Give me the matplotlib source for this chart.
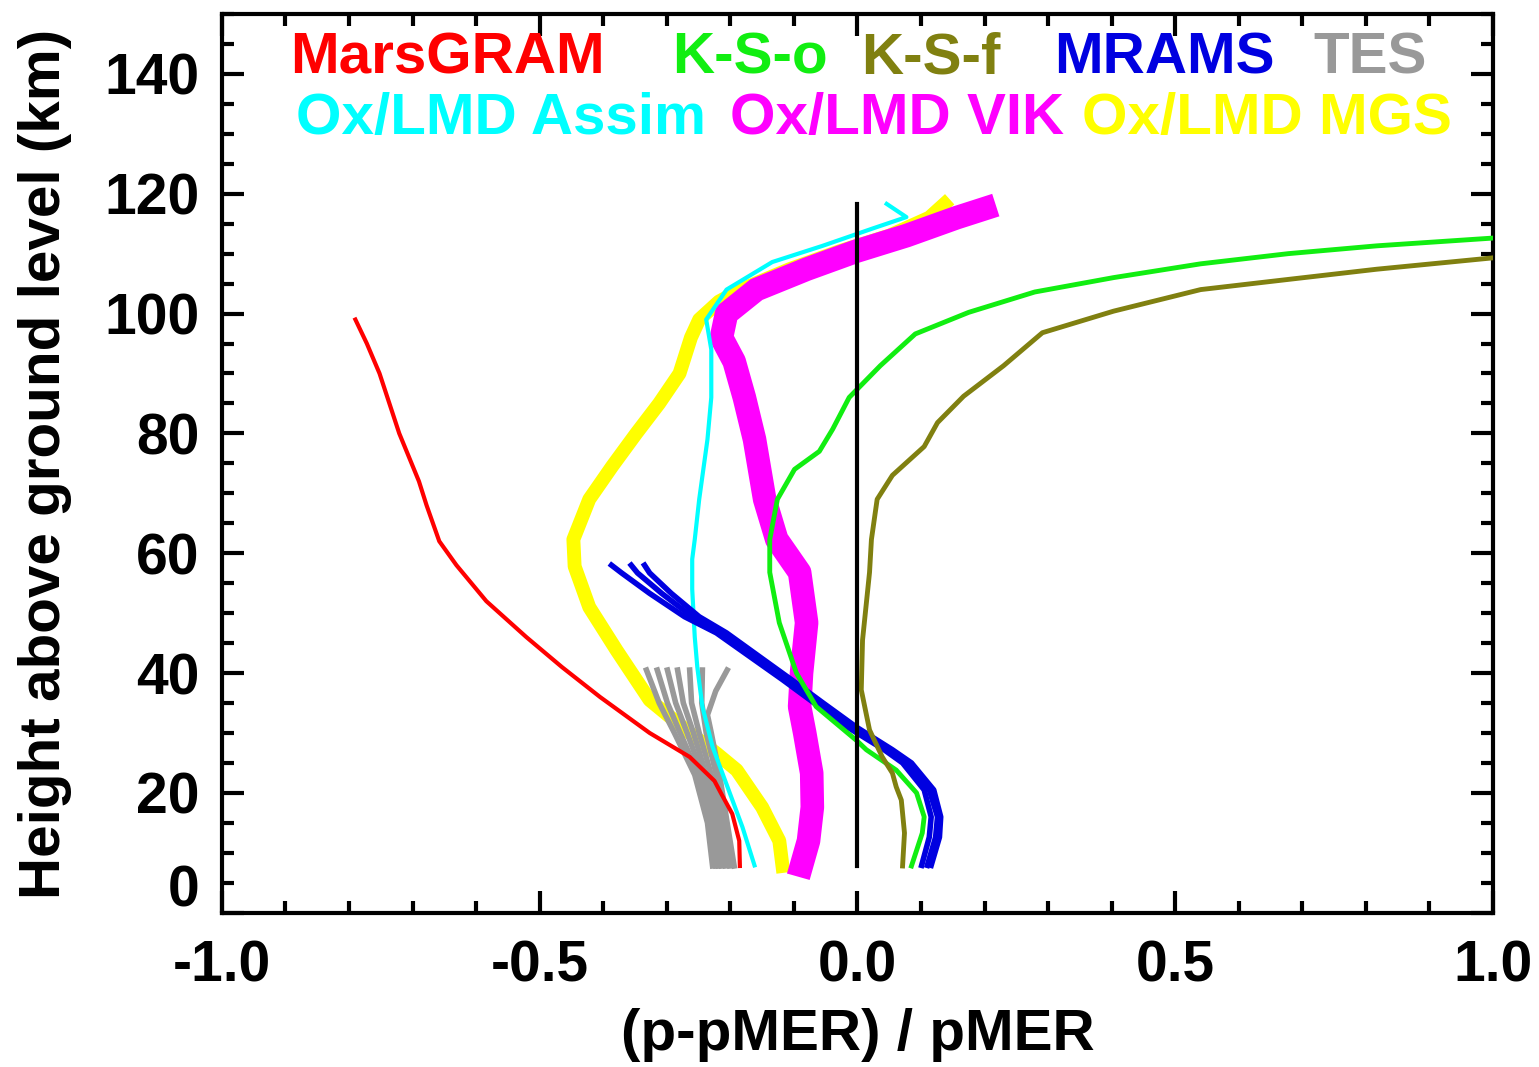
import numpy as np
import matplotlib
matplotlib.use('Agg')
import matplotlib.pyplot as plt
from matplotlib.ticker import MultipleLocator

plt.rcParams['font.family'] = 'Liberation Sans'
plt.rcParams['font.weight'] = 'bold'
plt.rcParams['axes.unicode_minus'] = False

# MarsGRAM (red)
gram_h = [7.8, 12, 16.5, 20, 22, 26, 30, 36, 41, 46, 52, 58, 62, 68, 72, 80, 90, 95, 99]
gram_x = [-0.185, -0.186, -0.197, -0.215, -0.225, -0.264, -0.327, -0.405, -0.465, -0.521,
          -0.584, -0.631, -0.658, -0.678, -0.690, -0.721, -0.752, -0.772, -0.790]

# Ox/LMD MGS (yellow)
mgs_h = [7.8, 12, 17.6, 23.8, 26.6, 30, 35.5, 43.8, 51, 57.8, 62.3, 69, 74.5, 80, 85, 90,
         96, 99, 102, 104, 107.4, 110.4, 113, 116, 118.3]
mgs_x = [-0.118, -0.123, -0.150, -0.190, -0.222, -0.264, -0.327, -0.379, -0.422, -0.445,
         -0.447, -0.422, -0.386, -0.348, -0.312, -0.280, -0.262, -0.249, -0.218, -0.183,
         -0.107, -0.028, 0.050, 0.113, 0.137]

# Ox/LMD Assim (cyan)
assim_h = [7.9, 14.3, 20, 27.7, 34.4, 41, 46, 54, 59, 62.3, 69, 79, 86, 94, 99, 104, 108.6,
           111.3, 114.2, 116.1, 118.3]
assim_x = [-0.162, -0.181, -0.201, -0.228, -0.244, -0.252, -0.256, -0.260, -0.260, -0.256,
           -0.249, -0.236, -0.230, -0.230, -0.238, -0.206, -0.134, -0.055, 0.024, 0.077, 0.046]

# Ox/LMD VIK (magenta)
vik_h = [7.9, 12, 17.6, 23.3, 30, 34.4, 40, 48.4, 56.8, 62.3, 69, 79, 86, 92, 96, 100, 104,
         107.4, 110.4, 113, 116, 117.5]
vik_x = [-0.088, -0.077, -0.071, -0.072, -0.083, -0.091, -0.088, -0.080, -0.091, -0.127,
         -0.146, -0.162, -0.178, -0.194, -0.214, -0.206, -0.159, -0.080, -0.002, 0.077,
         0.156, 0.200]

# K-S-o (green)
kso_h = [7.8, 13.3, 16, 20, 23.8, 27.2, 28.8, 34.4, 40, 48.4, 56.8, 62.3, 69, 74, 77, 80.7,
         86, 91.3, 96.6, 100.2, 103.6, 106, 108.3, 110, 111.3, 112.6]
kso_x = [0.085, 0.102, 0.105, 0.093, 0.061, 0.014, -0.002, -0.065, -0.096, -0.123, -0.138,
         -0.138, -0.126, -0.099, -0.060, -0.039, -0.013, 0.036, 0.091, 0.175, 0.279, 0.403,
         0.540, 0.678, 0.817, 1.0]

# K-S-f (olive)
ksf_h = [7.8, 13.3, 18.8, 21, 23.3, 26, 30.5, 37.2, 45.5, 56.8, 62.3, 69, 73, 77.8, 81.8,
         86.2, 91.3, 96.8, 100.4, 104, 105.7, 107.4, 109.3]
ksf_x = [0.071, 0.074, 0.069, 0.061, 0.055, 0.039, 0.019, 0.006, 0.008, 0.019, 0.022, 0.031,
         0.055, 0.105, 0.126, 0.167, 0.230, 0.291, 0.403, 0.540, 0.678, 0.817, 1.0]

# MRAMS (blue), three members
mrams_h = [7.9, 12.6, 16, 20.5, 25, 27.2, 31, 35, 38.9, 46.7, 49.4, 53.3, 56.7, 58]
mrams_x1 = [0.101, 0.113, 0.116, 0.105, 0.071, 0.042, -0.016, -0.068, -0.118, -0.222,
            -0.272, -0.327, -0.371, -0.387]
mrams_x2 = [0.110, 0.123, 0.126, 0.113, 0.079, 0.050, -0.008, -0.060, -0.110, -0.214,
            -0.260, -0.308, -0.346, -0.356]
mrams_x3 = [0.116, 0.129, 0.131, 0.120, 0.085, 0.055, -0.002, -0.054, -0.104, -0.206,
            -0.249, -0.293, -0.327, -0.335]

# TES (gray), several profiles
tes_h = [7.8, 15, 23, 30, 35, 40.5]
tes_x = [
    [-0.228, -0.236, -0.256, -0.288, -0.312, -0.332],
    [-0.223, -0.231, -0.250, -0.279, -0.299, -0.315],
    [-0.219, -0.227, -0.244, -0.268, -0.286, -0.299],
    [-0.214, -0.222, -0.238, -0.258, -0.274, -0.283],
    [-0.208, -0.216, -0.230, -0.249, -0.261, -0.264],
    [-0.201, -0.209, -0.222, -0.238, -0.245, -0.244],
]
tes_branch_h = [7.8, 15, 23, 30, 33, 37, 40.5]
tes_branch_x = [-0.194, -0.205, -0.217, -0.230, -0.236, -0.223, -0.205]

zero_h = [7.8, 118.3]

labels_row1 = ['MarsGRAM', 'K-S-o', 'K-S-f', 'MRAMS', 'TES']
colors_row1 = ['#ff0000', '#11ee11', '#808010', '#0000e0', '#999999']
xpos_row1 = [-0.892, -0.291, 0.005, 0.310, 0.718]
labels_row2 = ['Ox/LMD Assim', 'Ox/LMD VIK', 'Ox/LMD MGS']
colors_row2 = ['#00ffff', '#ff00ff', '#ffff00']
xpos_row2 = [-0.884, -0.200, 0.354]

xticks = [-1.0, -0.5, 0.0, 0.5, 1.0]
xticklabels = ['-1.0', '-0.5', '0.0', '0.5', '1.0']
yticks = [0, 20, 40, 60, 80, 100, 120, 140]

fig = plt.figure(figsize=(15.39, 10.67), dpi=100)
ax = fig.add_axes([0.1442, 0.1446, 0.8259, 0.8423])

ax.plot(mgs_x, mgs_h, color='#ffff00', lw=10, solid_joinstyle='round', zorder=1)
ax.plot(vik_x, vik_h, color='#ff00ff', lw=17, solid_joinstyle='round', zorder=2)
for tx in tes_x:
    ax.plot(tx, tes_h, color='#999999', lw=4, zorder=3)
ax.plot(tes_branch_x, tes_branch_h, color='#999999', lw=4, zorder=3)
ax.plot(assim_x, assim_h, color='#00ffff', lw=3, zorder=4)
ax.plot(gram_x, gram_h, color='#ff0000', lw=3, zorder=5)
for mx in [mrams_x1, mrams_x2, mrams_x3]:
    ax.plot(mx, mrams_h, color='#0000e0', lw=4, zorder=6)
ax.plot(kso_x, kso_h, color='#11ee11', lw=3.5, zorder=7)
ax.plot(ksf_x, ksf_h, color='#808010', lw=3.5, zorder=8)
ax.plot([0, 0], zero_h, color='black', lw=3, zorder=9)

for lab, c, x in zip(labels_row1, colors_row1, xpos_row1):
    ax.text(x, 140, lab, color=c, fontsize=42, fontweight='bold', ha='left', va='baseline')
for lab, c, x in zip(labels_row2, colors_row2, xpos_row2):
    ax.text(x, 130, lab, color=c, fontsize=42, fontweight='bold', ha='left', va='baseline')

ax.set_xlim(-1, 1)
ax.set_ylim(0, 150)
ax.set_xticks(xticks)
ax.set_xticklabels(xticklabels)
ax.set_yticks(yticks)
ax.set_yticklabels([''] + [str(t) for t in yticks[1:]])
ax.xaxis.set_minor_locator(MultipleLocator(0.1))
ax.yaxis.set_minor_locator(MultipleLocator(5))
ax.tick_params(which='both', direction='in', top=True, right=True, width=3)
ax.tick_params(which='major', length=16, labelsize=41)
ax.tick_params(which='minor', length=8.5)
ax.tick_params(axis='x', pad=19)
ax.tick_params(axis='y', pad=16)
for s in ax.spines.values():
    s.set_linewidth(3)

# IDL draws the bottom "0" label a bit above the corner
ax.annotate('0', xy=(0, 0), xycoords=('axes fraction', 'data'), xytext=(-22, 21),
            textcoords='offset pixels', ha='right', va='center', fontsize=41, fontweight='bold')

fig.text(857.5 / 1539, 0.030, '(p-pMER) / pMER', ha='center', va='center', fontsize=42,
         fontweight='bold')
fig.text(0.029, 0.565, 'Height above ground level (km)', rotation=90, ha='center',
         va='center', fontsize=42, fontweight='bold')

fig.savefig('out.png', dpi=100)
